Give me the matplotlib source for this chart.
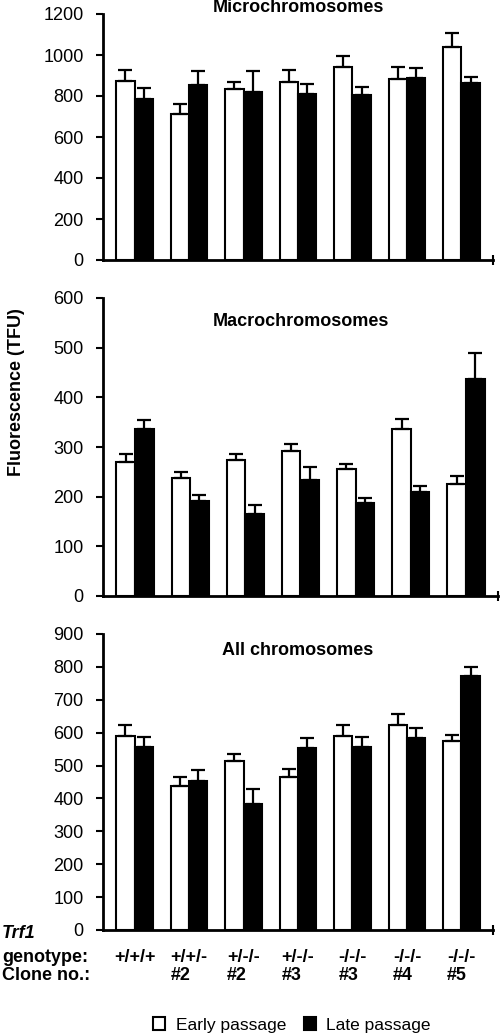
#!/usr/bin/env python3
"""Telomere fluorescence per Trf1 genotype, early vs late passage (3 panels)."""

import numpy as np
import matplotlib.pyplot as plt
from matplotlib.patches import Patch
from matplotlib.transforms import blended_transform_factory

plt.rcParams["font.family"] = ["Liberation Sans", "DejaVu Sans"]

genotypes = ["+/+/+", "+/+/-", "+/-/-", "+/-/-", "-/-/-", "-/-/-", "-/-/-"]
clones = ["", "#2", "#2", "#3", "#3", "#4", "#5"]

# values and upper error-bar ends
micro_early = [875, 711, 833, 868, 940, 885, 1041]
micro_early_top = [927, 761, 868, 928, 997, 941, 1106]
micro_late = [785, 854, 821, 811, 803, 888, 863]
micro_late_top = [837, 922, 924, 857, 846, 935, 894]

macro_early = [270, 238, 273, 291, 256, 336, 225]
macro_early_top = [285, 250, 285, 307, 266, 356, 242]
macro_late = [336, 192, 166, 234, 187, 210, 437]
macro_late_top = [354, 203, 183, 260, 197, 222, 490]

all_early = [589, 438, 515, 465, 589, 623, 574]
all_early_top = [623, 464, 534, 489, 623, 657, 594]
all_late = [556, 452, 383, 552, 556, 584, 772]
all_late_top = [586, 488, 430, 583, 586, 615, 800]

W, H = 500, 1035
FS = 13
fig = plt.figure(figsize=(W / 100, H / 100), dpi=100)


def px_axes(left, right, top, bottom):
    return fig.add_axes([left / W, 1 - bottom / H, (right - left) / W, (bottom - top) / H])


panels = [
    (px_axes(103, 493, 14, 260), micro_early, micro_early_top, micro_late, micro_late_top,
     1200, 200, "Microchromosomes", 1230),
    (px_axes(103, 498, 298, 596), macro_early, macro_early_top, macro_late, macro_late_top,
     600, 100, "Macrochromosomes", 552),
    (px_axes(103, 493, 634, 930), all_early, all_early_top, all_late, all_late_top,
     900, 100, "All chromosomes", 849),
]

bw = 0.336
x = np.arange(len(genotypes))
for ax, early, etop, late, ltop, ymax, step, title, ty in panels:
    early = np.array(early)
    late = np.array(late)
    ax.bar(x - bw / 2, early, bw, color="white", edgecolor="black", linewidth=1.5, zorder=2)
    ax.bar(x + bw / 2, late, bw, color="black", edgecolor="black", linewidth=1.5, zorder=2)
    ax.errorbar(x - bw / 2, early, yerr=[np.zeros_like(early), np.array(etop) - early],
                fmt="none", ecolor="black", elinewidth=1.6, capsize=5, capthick=1.6, zorder=3)
    ax.errorbar(x + bw / 2, late, yerr=[np.zeros_like(late), np.array(ltop) - late],
                fmt="none", ecolor="black", elinewidth=1.6, capsize=5, capthick=1.6, zorder=3)
    ax.set_xlim(-0.58, 6.58)
    ax.set_ylim(0, ymax)
    ax.set_yticks(np.arange(0, ymax + 1, step))
    ax.set_xticks([6.58])
    ax.set_xticklabels([])
    ax.tick_params(axis="x", direction="inout", length=7, width=1.5)
    ax.tick_params(axis="y", direction="out", length=5, width=1.5, pad=9, labelsize=FS)
    for s in ("top", "right"):
        ax.spines[s].set_visible(False)
    for s in ("left", "bottom"):
        ax.spines[s].set_linewidth(2)
    ax.text(3.0, ty, title, ha="center", va="center", fontsize=FS,
            fontweight="bold", clip_on=False)

fig.text(17 / W, 1 - 392 / H, "Fluorescence (TFU)", rotation=90, ha="center", va="center",
         fontsize=FS, fontweight="bold")

ax3 = panels[2][0]
tr = blended_transform_factory(ax3.transData, fig.transFigure)
for i, (g, c) in enumerate(zip(genotypes, clones)):
    label = g if not c else g + "\n" + c
    ax3.text(i, 1 - 949 / H, label, transform=tr, ha="center", va="top",
             multialignment="left", fontsize=FS, fontweight="bold", linespacing=1.1)

fig.text(2 / W, 1 - 933 / H, "Trf1", ha="left", va="center", fontsize=FS,
         fontweight="bold", style="italic")
fig.text(2 / W, 1 - 957 / H, "genotype:", ha="left", va="center", fontsize=FS,
         fontweight="bold")
fig.text(2 / W, 1 - 976 / H, "Clone no.:", ha="left", va="center", fontsize=FS,
         fontweight="bold")

handles = [Patch(facecolor="white", edgecolor="black", linewidth=1.5, label="Early passage"),
           Patch(facecolor="black", edgecolor="black", linewidth=1.5, label="Late passage")]
fig.legend(handles=handles, loc="center", bbox_to_anchor=(292 / W, 1 - 1025 / H), ncol=2,
           frameon=False, fontsize=12.5, handlelength=0.7, handleheight=0.7,
           handletextpad=0.6, columnspacing=1.0)

fig.savefig("out.png", dpi=100)
